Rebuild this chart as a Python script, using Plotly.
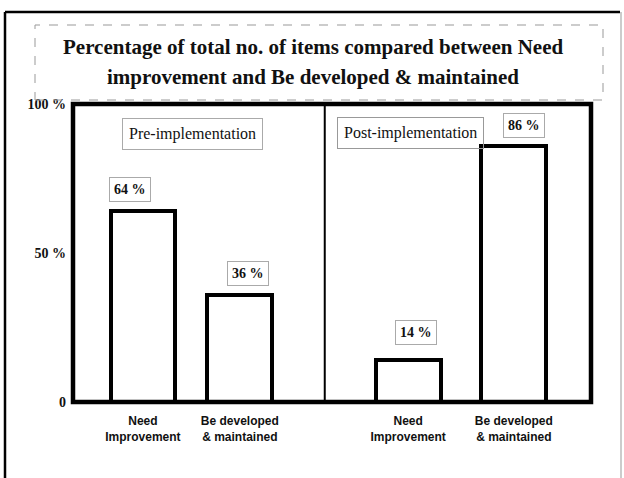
import plotly.graph_objects as go

# ---- data ----
phases = ["Pre-implementation", "Post-implementation"]
categories = ["Need<br>Improvement", "Be developed<br>& maintained",
              "Need<br>Improvement", "Be developed<br>& maintained"]
values = [64, 36, 14, 86]
value_labels = ["64 %", "36 %", "14 %", "86 %"]
y_tickvals = [0, 50, 100]
y_ticktext = ["0", "50 %", "100 %"]
title_lines = ["Percentage of total no. of items compared between Need",
               "improvement and Be developed & maintained"]

# ---- layout constants ----
W, H = 624, 478
L, R, T, B = 73, 33, 104, 76
bar_x = [1.35, 3.22, 6.47, 8.51]
divider_x = 4.86
pw, ph = W - L - R, H - T - B


def px_x(p):
    return (p - L) / pw


def px_y(p):
    return (H - B - p) / ph


serif = "Liberation Serif"
sans = "Liberation Sans Narrow, Liberation Sans, Arial"

fig = go.Figure()
fig.add_trace(go.Bar(
    x=bar_x, y=values, width=1.25,
    marker=dict(color="white", line=dict(color="black", width=4)),
    hoverinfo="skip",
))

annotations = []
shapes = []

# value labels
label_off = [3, 3, 5, 2.5]
label_dx = [-0.25, 0.15, 0.15, 0.2]
for xv, v, t, o, dx in zip(bar_x, values, value_labels, label_off, label_dx):
    annotations.append(dict(
        x=xv + dx, y=v + o, xref="x", yref="y", text="<b>" + t + "</b>",
        showarrow=False, yanchor="bottom", xanchor="center",
        font=dict(family=serif, size=14, color="#111"),
        bordercolor="#aaa", borderwidth=1, borderpad=4, bgcolor="white",
    ))

# phase boxes
annotations.append(dict(
    x=px_x(192), y=px_y(134), xref="paper", yref="paper",
    text=phases[0], showarrow=False, xanchor="center", yanchor="middle",
    font=dict(family=serif, size=16, color="#111"),
    bordercolor="#aaa", borderwidth=1, borderpad=6,
))
annotations.append(dict(
    x=px_x(410), y=px_y(133), xref="paper", yref="paper",
    text=phases[1], showarrow=False, xanchor="center", yanchor="middle",
    font=dict(family=serif, size=16, color="#111"),
    bordercolor="#999", borderwidth=1, borderpad=6,
))

# title
for i, line in enumerate(title_lines):
    annotations.append(dict(
        x=px_x(313), y=px_y(47 + 30 * i), xref="paper", yref="paper",
        text="<b>" + line + "</b>", showarrow=False,
        xanchor="center", yanchor="middle",
        font=dict(family=serif, size=21, color="#111"),
    ))

# title dashed box
shapes.append(dict(type="rect", xref="paper", yref="paper",
                   x0=px_x(35), x1=px_x(603), y0=px_y(100), y1=px_y(25),
                   line=dict(color="#999", width=1, dash="dash")))
# plot frame
shapes.append(dict(type="rect", xref="paper", yref="paper",
                   x0=0, x1=1, y0=0, y1=1,
                   line=dict(color="black", width=4.5)))
# divider
shapes.append(dict(type="line", xref="x", yref="paper",
                   x0=divider_x, x1=divider_x, y0=0, y1=1,
                   line=dict(color="black", width=2)))
# outer page border
shapes.append(dict(type="line", xref="paper", yref="paper",
                   x0=px_x(5), x1=px_x(5), y0=px_y(12), y1=px_y(478),
                   line=dict(color="black", width=2.5)))
shapes.append(dict(type="line", xref="paper", yref="paper",
                   x0=px_x(5), x1=px_x(620), y0=px_y(12), y1=px_y(12),
                   line=dict(color="black", width=2.5)))
shapes.append(dict(type="line", xref="paper", yref="paper",
                   x0=px_x(621), x1=px_x(621), y0=px_y(12), y1=px_y(478),
                   line=dict(color="#999", width=1)))

fig.update_layout(
    width=W, height=H,
    margin=dict(l=L, r=R, t=T, b=B),
    paper_bgcolor="white", plot_bgcolor="white",
    showlegend=False,
    bargap=0,
    xaxis=dict(range=[0, 10], tickvals=bar_x, ticktext=["<b>" + c + "</b>" for c in categories],
               showgrid=False, zeroline=False, showline=False, ticks="",
               ticklabelstandoff=10,
               tickfont=dict(family=sans, size=12, color="#111"),
               fixedrange=True),
    yaxis=dict(range=[0, 100], tickvals=y_tickvals,
               ticktext=["<b>" + t + "</b>" for t in y_ticktext],
               showgrid=False, zeroline=False, showline=False, ticks="",
               ticklabelstandoff=6,
               tickfont=dict(family=serif, size=14, color="#111"),
               fixedrange=True),
    annotations=annotations,
    shapes=shapes,
)

fig.write_html("out.html")
